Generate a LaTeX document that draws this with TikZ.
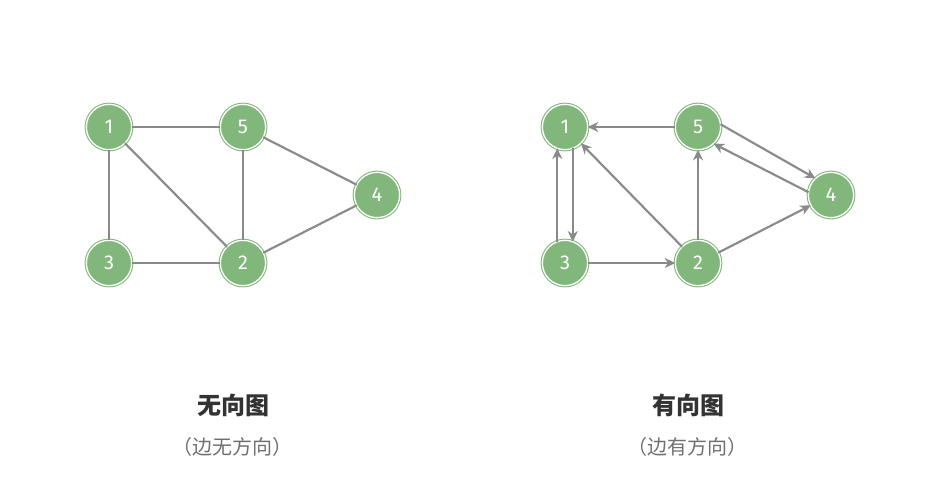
\documentclass[tikz,border=0pt]{standalone}
\usepackage{fontspec}
\setsansfont{Fira Sans}
\newfontfamily\cjk{Noto Sans CJK SC}
\usetikzlibrary{arrows.meta}
\definecolor{ngreen}{HTML}{82B77C}
\definecolor{egray}{HTML}{8A8A8A}
\definecolor{titlec}{HTML}{333333}
\definecolor{subc}{HTML}{707070}
\tikzset{
  vtx/.style={circle, fill=ngreen, draw=ngreen, double=white, double distance=1pt, line width=0.8pt,
    minimum size=34pt, inner sep=0pt, outer sep=0pt, text=white, font=\sffamily\fontsize{15}{15}\selectfont},
  edge/.style={draw=egray, line width=1.6pt},
  arc/.style={edge, -{Stealth[length=8pt,width=7.5pt,inset=2.5pt]}},
  title/.style={font=\cjk\bfseries\fontsize{18}{18}\selectfont, text=titlec},
  subtitle/.style={font=\cjk\fontsize{15}{15}\selectfont, text=subc}
}
\begin{document}
\begin{tikzpicture}[x=0.75pt,y=-0.75pt]
\useasboundingbox (0,0) rectangle (930,487);
% undirected
\node[vtx] (a1) at (109,127) {1};
\node[vtx] (a5) at (243,127) {5};
\node[vtx] (a4) at (377,195) {4};
\node[vtx] (a3) at (109,263) {3};
\node[vtx] (a2) at (243,263) {2};
\draw[edge] (a1) -- (a5);
\draw[edge] (a1) -- (a3);
\draw[edge] (a1) -- (a2);
\draw[edge] (a5) -- (a2);
\draw[edge] (a5) -- (a4);
\draw[edge] (a3) -- (a2);
\draw[edge] (a2) -- (a4);
% directed
\node[vtx] (b1) at (565,127) {1};
\node[vtx] (b5) at (698,127) {5};
\node[vtx] (b4) at (831,195) {4};
\node[vtx] (b3) at (565,263) {3};
\node[vtx] (b2) at (698,263) {2};
\draw[arc] (b5) -- (b1);
\draw[arc] (b3.110) -- (b1.250);
\draw[arc] (b1.290) -- (b3.70);
\draw[arc] (b2) -- (b1);
\draw[arc] (b3) -- (b2);
\draw[arc] (b2) -- (b5);
\draw[arc] (b5.7) -- (b4.133);
\draw[arc] (b4.173) -- (b5.-47);
\draw[arc] (b2) -- (b4);
% labels
\node[title] (t1) at (233,405) {无向图};
\node[subtitle] (s1) at (232,447) {（边无方向）};
\node[title] (t2) at (688,405) {有向图};
\node[subtitle] (s2) at (687,447) {（边有方向）};
\end{tikzpicture}
\end{document}
